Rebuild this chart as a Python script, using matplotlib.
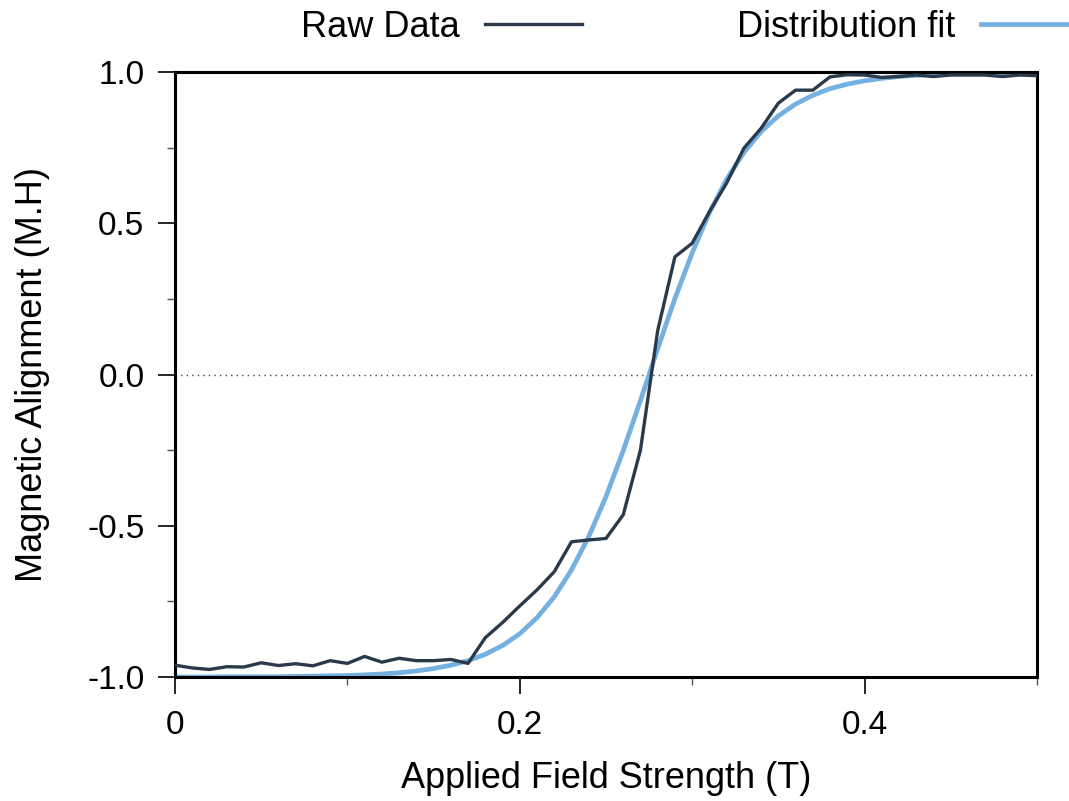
import numpy as np
import matplotlib.pyplot as plt
from matplotlib.ticker import MultipleLocator

plt.rcParams['font.family'] = ['Liberation Sans', 'DejaVu Sans']

# field values (T), sampled every 0.01
field = [0.00, 0.01, 0.02, 0.03, 0.04, 0.05, 0.06, 0.07, 0.08, 0.09,
         0.10, 0.11, 0.12, 0.13, 0.14, 0.15, 0.16, 0.17, 0.18, 0.19,
         0.20, 0.21, 0.22, 0.23, 0.24, 0.25, 0.26, 0.27, 0.28, 0.29,
         0.30, 0.31, 0.32, 0.33, 0.34, 0.35, 0.36, 0.37, 0.38, 0.39,
         0.40, 0.41, 0.42, 0.43, 0.44, 0.45, 0.46, 0.47, 0.48, 0.49, 0.50]

raw = [-0.961, -0.970, -0.975, -0.966, -0.967, -0.953, -0.962, -0.956, -0.963, -0.946,
       -0.955, -0.932, -0.951, -0.938, -0.946, -0.946, -0.942, -0.955, -0.870, -0.820,
       -0.765, -0.712, -0.652, -0.553, -0.547, -0.542, -0.464, -0.250, 0.145, 0.389,
       0.434, 0.538, 0.633, 0.748, 0.814, 0.897, 0.940, 0.940, 0.984, 0.991,
       0.990, 0.982, 0.985, 0.990, 0.985, 0.990, 0.990, 0.990, 0.985, 0.990, 0.988]

fit = [-1.000, -1.000, -1.000, -0.999, -0.999, -0.999, -0.999, -0.998, -0.997, -0.996,
       -0.995, -0.993, -0.990, -0.986, -0.980, -0.972, -0.961, -0.946, -0.925, -0.896,
       -0.857, -0.804, -0.735, -0.646, -0.536, -0.404, -0.252, -0.086, 0.085, 0.251,
       0.402, 0.535, 0.645, 0.734, 0.803, 0.855, 0.894, 0.923, 0.945, 0.960,
       0.971, 0.979, 0.985, 0.989, 0.992, 0.994, 0.996, 0.997, 0.998, 0.998, 0.999]

xticks = [0, 0.2, 0.4]
xticklabels = ['0', '0.2', '0.4']
yticks = [-1.0, -0.5, 0.0, 0.5, 1.0]
yticklabels = ['-1.0', '-0.5', '0.0', '0.5', '1.0']

fig = plt.figure(figsize=(10.69, 8.01), dpi=100)
ax = fig.add_axes([0.1637, 0.1548, 0.8063, 0.7553])

ax.axhline(0, color='#444444', lw=1, ls=(0, (1, 3)), zorder=1)
ax.plot(field, raw, color='#2b3a4a', lw=2.4, label='Raw Data', zorder=3)
ax.plot(field, fit, color='#74b0e0', lw=3.4, label='Distribution fit', zorder=2)

ax.set_xlim(0, 0.5)
ax.set_ylim(-1.0, 1.0)
ax.set_xticks(xticks)
ax.set_xticklabels(xticklabels)
ax.set_yticks(yticks)
ax.set_yticklabels(yticklabels)
ax.xaxis.set_minor_locator(MultipleLocator(0.1))
ax.yaxis.set_minor_locator(MultipleLocator(0.25))

ax.tick_params(which='major', direction='out', length=12, width=1.2, labelsize=24)
ax.tick_params(which='minor', direction='out', length=6, width=1.0, color='#555555')
ax.tick_params(axis='x', which='major', pad=12)
ax.tick_params(axis='y', which='major', pad=10)

for side in ['left', 'bottom', 'top', 'right']:
    ax.spines[side].set_linewidth(2.2)

ax.set_xlabel('Applied Field Strength (T)', fontsize=26, labelpad=14)
ax.set_ylabel('Magnetic Alignment (M.H)', fontsize=26, labelpad=27)

fig.legend(loc='center', bbox_to_anchor=(0.645, 0.966), ncol=2, frameon=False,
           fontsize=26, markerfirst=False, handlelength=2.7, handletextpad=0.7,
           columnspacing=4.3)

plt.savefig('out.png', dpi=100)
